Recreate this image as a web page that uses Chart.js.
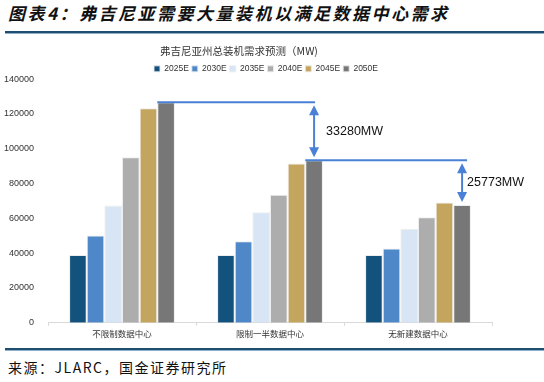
<!DOCTYPE html>
<html>
<head>
<meta charset="utf-8">
<script src="https://cdn.jsdelivr.net/npm/chart.js@4.4.1/dist/chart.umd.min.js"></script>
<style>
  html, body { margin: 0; padding: 0; background: #fff; }
  body { width: 544px; height: 382px; position: relative; overflow: hidden; font-family: "Noto Sans CJK SC", "Liberation Sans", sans-serif; }
  #pageTitle { position: absolute; left: 8px; top: 1px; font-size: 17px; font-weight: bold; font-style: italic; letter-spacing: 2.5px; color: #111; white-space: nowrap; line-height: 24px; }
  .rule { position: absolute; left: 5px; right: 0; height: 2px; background: #1d4e72; border-bottom: 1px solid #8fb0c8; }
  #rule1 { top: 31px; }
  #rule2 { top: 348px; }
  #source { position: absolute; left: 8px; top: 357px; font-size: 14px; letter-spacing: 1.5px; color: #111; white-space: nowrap; line-height: 20px; }
  #wrap { position: absolute; left: 0; top: 35px; width: 544px; height: 307px; }
</style>
</head>
<body>
<div id="pageTitle">图表4：弗吉尼亚需要大量装机以满足数据中心需求</div>
<div class="rule" id="rule1"></div>
<div id="wrap"><canvas id="c"></canvas></div>
<div class="rule" id="rule2"></div>
<div id="source">来源：JLARC，国金证券研究所</div>
<script>
const chartTitle = "弗吉尼亚州总装机需求预测（MW)";
const categories = ["不限制数据中心", "限制一半数据中心", "无新建数据中心"];
const seriesNames = ["2025E", "2030E", "2035E", "2040E", "2045E", "2050E"];
const v2025 = [38900, 38900, 38900];
const v2030 = [50200, 46800, 42700];
const v2035 = [67400, 63500, 53900];
const v2040 = [95100, 73600, 60700];
const v2045 = [123200, 91500, 69100];
const v2050 = [126700, 93420, 67647];
const yTicks = [0, 20000, 40000, 60000, 80000, 100000, 120000, 140000];
const gapLabels = ["33280MW", "25773MW"];

const colors = ["#14527e", "#4f88c8", "#d7e5f4", "#adadad", "#c4a55d", "#777777"];
const allValues = [v2025, v2030, v2035, v2040, v2045, v2050];

const datasets = seriesNames.map((n, i) => ({
  label: n,
  data: allValues[i],
  backgroundColor: colors[i],
  borderColor: "rgba(235,235,235,0.9)",
  borderWidth: 1,
  categoryPercentage: 0.715,
  barPercentage: 1.0
}));

const arrowColor = "#4a80d6";

function arrowHead(ctx, x, y, dir) {
  ctx.beginPath();
  ctx.moveTo(x, y);
  ctx.lineTo(x - 5, y - dir * 10);
  ctx.lineTo(x + 5, y - dir * 10);
  ctx.closePath();
  ctx.fill();
}

const shiftPlugin = {
  id: "shiftHeader",
  afterLayout(chart) {
    if (chart.legend) { chart.legend.left += 20; chart.legend.right += 20; chart.legend.top += 4; chart.legend.bottom += 4; }
    if (chart.titleBlock) { chart.titleBlock.left -= 7; chart.titleBlock.right -= 7; chart.titleBlock.top += 4; chart.titleBlock.bottom += 4; }
  }
};

const annotPlugin = {
  id: "gapAnnot",
  afterDatasetsDraw(chart) {
    const ctx = chart.ctx;
    const y = chart.scales.y;
    const last = chart.getDatasetMeta(5).data;
    ctx.save();
    ctx.lineWidth = 2;
    const pairs = [
      { from: 0, to: 1, label: gapLabels[0], lineExt: 1, textOff: 12 },
      { from: 1, to: 2, label: gapLabels[1], lineExt: 5, textOff: 5 }
    ];
    pairs.forEach((p) => {
      const bFrom = last[p.from];
      const bTo = last[p.to];
      const yTop = y.getPixelForValue(v2050[p.from]);
      const yLow = y.getPixelForValue(v2050[p.to]);
      const xArrow = bTo.x;
      ctx.strokeStyle = arrowColor;
      ctx.fillStyle = arrowColor;
      ctx.beginPath();
      ctx.moveTo(bFrom.x - bFrom.width / 2, yTop);
      ctx.lineTo(xArrow + p.lineExt, yTop);
      ctx.stroke();
      const tipTop = yTop + 3;
      const tipLow = yLow - 3;
      ctx.beginPath();
      ctx.moveTo(xArrow, tipTop + 8);
      ctx.lineTo(xArrow, tipLow - 8);
      ctx.stroke();
      arrowHead(ctx, xArrow, tipTop, -1);
      arrowHead(ctx, xArrow, tipLow, 1);
      ctx.fillStyle = "#111";
      ctx.font = "12.5px 'Liberation Sans', Arial, sans-serif";
      ctx.textBaseline = "middle";
      ctx.fillText(p.label, xArrow + p.textOff, (yTop + yLow) / 2);
    });
    ctx.restore();
  }
};

new Chart(document.getElementById("c"), {
  type: "bar",
  data: { labels: categories, datasets },
  plugins: [shiftPlugin, annotPlugin],
  options: {
    responsive: true,
    maintainAspectRatio: false,
    animation: false,
    layout: { padding: { left: 0, right: 52, top: 0, bottom: 0 } },
    plugins: {
      title: {
        display: true,
        text: chartTitle,
        color: "#333",
        font: { family: "'Noto Sans CJK SC', sans-serif", size: 10.5, weight: "normal" },
        padding: { top: 6, bottom: 4 }
      },
      legend: {
        display: true,
        position: "top",
        labels: {
          boxWidth: 6, boxHeight: 6, padding: 3,
          color: "#333",
          font: { family: "'Liberation Sans', Arial, sans-serif", size: 8.5 }
        }
      },
      tooltip: { enabled: false }
    },
    scales: {
      x: {
        grid: { display: true, drawOnChartArea: false, drawTicks: true, tickLength: 3, color: "#d9d9d9" },
        border: { display: true, color: "#d9d9d9" },
        ticks: { color: "#333", padding: 3, font: { family: "'Noto Sans CJK SC', sans-serif", size: 8.5 } }
      },
      y: {
        min: 0, max: 140000,
        afterBuildTicks(axis) { axis.ticks = yTicks.map(v => ({ value: v })); },
        afterFit(axis) { axis.width = 48; },
        grid: { display: false },
        border: { display: false },
        ticks: {
          color: "#333", padding: 6,
          font: { family: "'Liberation Sans', Arial, sans-serif", size: 9 },
          callback: (v) => String(v)
        }
      }
    }
  }
});
</script>
</body>
</html>
